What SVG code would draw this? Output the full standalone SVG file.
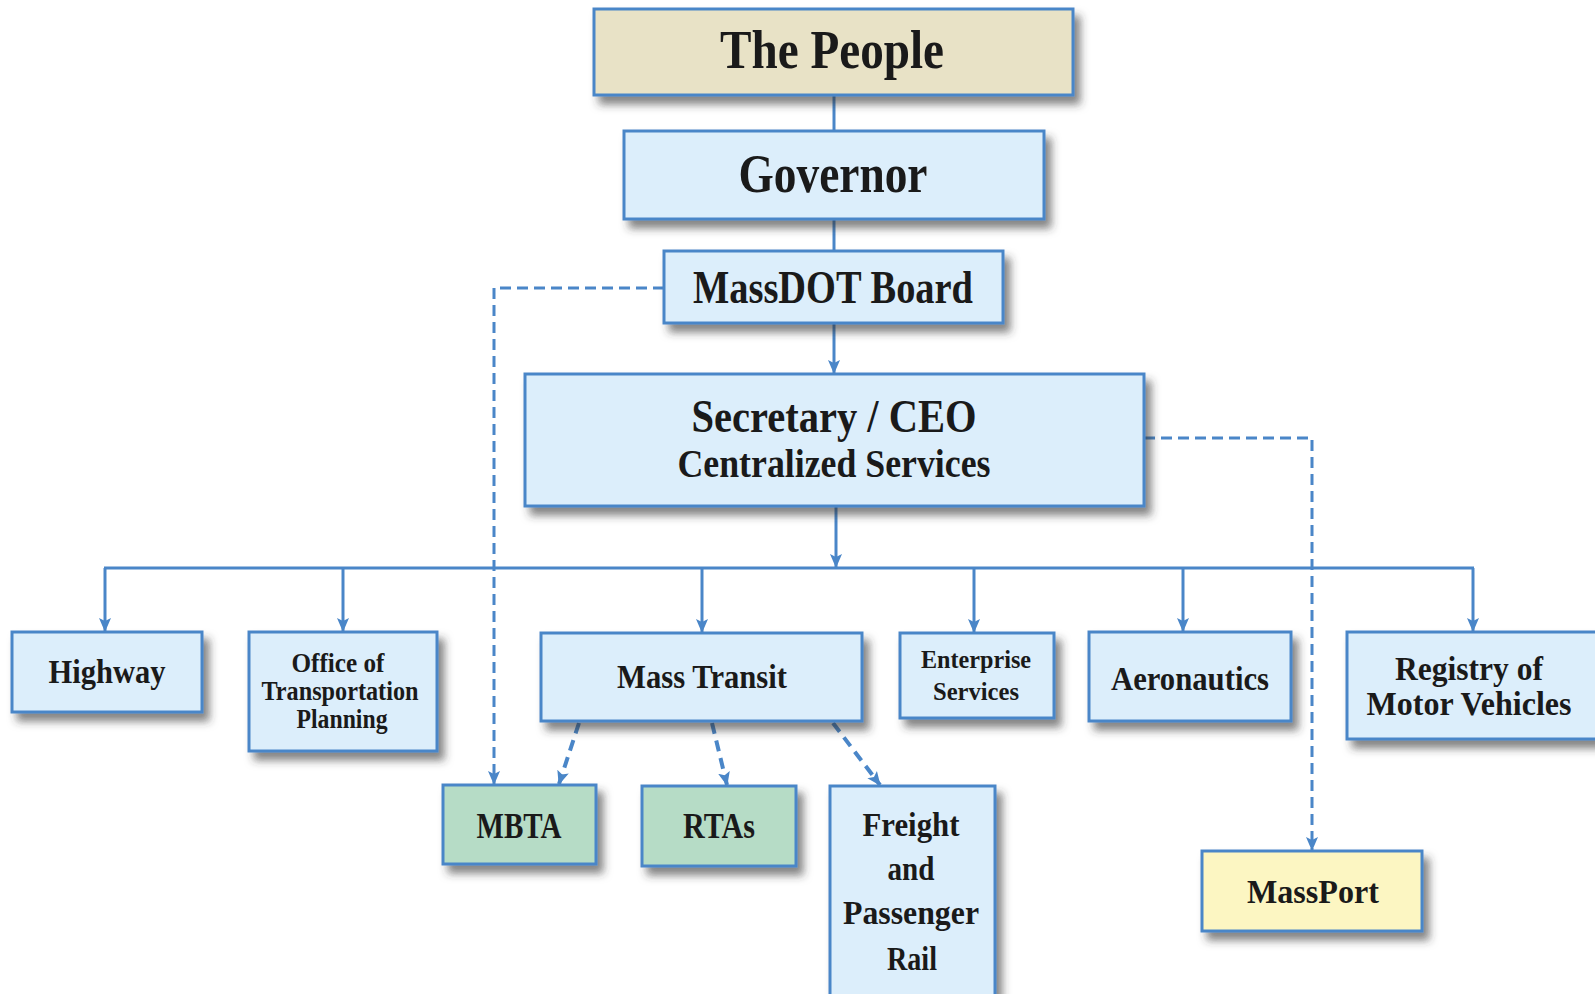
<svg xmlns="http://www.w3.org/2000/svg" width="1595" height="994" viewBox="0 0 1595 994">
<style>
.box{stroke:#4a86c8;stroke-width:3;filter:url(#sh)}
.blue{fill:#dceefb}
.tan{fill:#e8e2c6}
.green{fill:#b6dcc6}
.yellow{fill:#fcf6c2}
.t{font-family:"Liberation Serif","Times New Roman",serif;font-weight:bold;fill:#1a1a1a;text-anchor:middle}
.ln{stroke:#4a86c8;stroke-width:3;fill:none}
.ds{stroke:#4a86c8;stroke-width:3;fill:none;stroke-dasharray:11 6}
.dt{stroke:#4a86c8;stroke-width:4;fill:none;stroke-dasharray:11 7}
</style>
<defs>
<filter id="sh" x="-10%" y="-10%" width="130%" height="140%">
<feDropShadow dx="6" dy="8" stdDeviation="4" flood-color="#333" flood-opacity="0.6"/>
</filter>
<marker id="ah" markerUnits="userSpaceOnUse" markerWidth="14" markerHeight="14" viewBox="0 0 14 14" refX="13" refY="7" orient="auto">
<path d="M0,1 L14,7 L0,13 L3,7 Z" fill="#4a86c8"/>
</marker>
</defs>
<rect width="1595" height="994" fill="#ffffff"/>
<g id="connectors">
<line class="ln" x1="834" y1="96" x2="834" y2="131"/>
<line class="ln" x1="834" y1="219" x2="834" y2="251"/>
<line class="ln" x1="834" y1="323" x2="834" y2="373" marker-end="url(#ah)"/>
<line class="ln" x1="836" y1="506" x2="836" y2="567" marker-end="url(#ah)"/>
<line class="ln" x1="104" y1="568" x2="1474" y2="568"/>
<line class="ln" x1="105" y1="568" x2="105" y2="631" marker-end="url(#ah)"/>
<line class="ln" x1="343" y1="568" x2="343" y2="631" marker-end="url(#ah)"/>
<line class="ln" x1="702" y1="568" x2="702" y2="632" marker-end="url(#ah)"/>
<line class="ln" x1="974" y1="568" x2="974" y2="632" marker-end="url(#ah)"/>
<line class="ln" x1="1183" y1="568" x2="1183" y2="631" marker-end="url(#ah)"/>
<line class="ln" x1="1473" y1="568" x2="1473" y2="631" marker-end="url(#ah)"/>
<path class="ds" d="M664,288 H494 V784" marker-end="url(#ah)"/>
<path class="ds" d="M1144,438 H1312 V850" marker-end="url(#ah)"/>
<line class="dt" x1="579" y1="723" x2="559" y2="784" marker-end="url(#ah)"/>
<line class="dt" x1="712" y1="723" x2="727" y2="785" marker-end="url(#ah)"/>
<line class="dt" x1="833" y1="723" x2="880" y2="785" marker-end="url(#ah)"/>
</g>
<g id="the-people">
<rect class="box tan" x="594" y="9" width="479" height="86"/>
<text class="t" x="832" y="68" font-size="54" textLength="224" lengthAdjust="spacingAndGlyphs">The People</text>
</g>
<g id="governor">
<rect class="box blue" x="624" y="131" width="420" height="88"/>
<text class="t" x="833" y="192" font-size="54" textLength="189" lengthAdjust="spacingAndGlyphs">Governor</text>
</g>
<g id="massdot-board">
<rect class="box blue" x="664" y="251" width="339" height="72"/>
<text class="t" x="833" y="303" font-size="46" textLength="280" lengthAdjust="spacingAndGlyphs">MassDOT Board</text>
</g>
<g id="secretary">
<rect class="box blue" x="525" y="374" width="619" height="132"/>
<text class="t" x="834" y="432" font-size="46" textLength="285" lengthAdjust="spacingAndGlyphs">Secretary / CEO</text>
<text class="t" x="834" y="477" font-size="41" textLength="313" lengthAdjust="spacingAndGlyphs">Centralized Services</text>
</g>
<g id="highway">
<rect class="box blue" x="12" y="632" width="190" height="80"/>
<text class="t" x="107" y="683" font-size="33" textLength="117" lengthAdjust="spacingAndGlyphs">Highway</text>
</g>
<g id="office-planning">
<rect class="box blue" x="249" y="632" width="188" height="119"/>
<text class="t" x="338" y="672" font-size="27" textLength="93" lengthAdjust="spacingAndGlyphs">Office of</text>
<text class="t" x="340" y="700" font-size="27" textLength="157" lengthAdjust="spacingAndGlyphs">Transportation</text>
<text class="t" x="342" y="728" font-size="27" textLength="91" lengthAdjust="spacingAndGlyphs">Planning</text>
</g>
<g id="mass-transit">
<rect class="box blue" x="541" y="633" width="321" height="88"/>
<text class="t" x="702" y="688" font-size="33" textLength="170" lengthAdjust="spacingAndGlyphs">Mass Transit</text>
</g>
<g id="enterprise-services">
<rect class="box blue" x="900" y="633" width="154" height="85"/>
<text class="t" x="976" y="668" font-size="26" textLength="110" lengthAdjust="spacingAndGlyphs">Enterprise</text>
<text class="t" x="976" y="700" font-size="26" textLength="86" lengthAdjust="spacingAndGlyphs">Services</text>
</g>
<g id="aeronautics">
<rect class="box blue" x="1089" y="632" width="202" height="89"/>
<text class="t" x="1190" y="690" font-size="33" textLength="158" lengthAdjust="spacingAndGlyphs">Aeronautics</text>
</g>
<g id="registry">
<rect class="box blue" x="1347" y="632" width="250" height="107"/>
<text class="t" x="1469" y="680" font-size="34" textLength="148" lengthAdjust="spacingAndGlyphs">Registry of</text>
<text class="t" x="1469" y="715" font-size="34" textLength="205" lengthAdjust="spacingAndGlyphs">Motor Vehicles</text>
</g>
<g id="mbta">
<rect class="box green" x="443" y="785" width="153" height="79"/>
<text class="t" x="519" y="838" font-size="35" textLength="85" lengthAdjust="spacingAndGlyphs">MBTA</text>
</g>
<g id="rtas">
<rect class="box green" x="642" y="786" width="154" height="80"/>
<text class="t" x="719" y="838" font-size="35" textLength="72" lengthAdjust="spacingAndGlyphs">RTAs</text>
</g>
<g id="freight-rail">
<rect class="box blue" x="830" y="786" width="165" height="220"/>
<text class="t" x="911" y="836" font-size="33" textLength="97" lengthAdjust="spacingAndGlyphs">Freight</text>
<text class="t" x="911" y="880" font-size="33" textLength="47" lengthAdjust="spacingAndGlyphs">and</text>
<text class="t" x="911" y="924" font-size="33" textLength="136" lengthAdjust="spacingAndGlyphs">Passenger</text>
<text class="t" x="912" y="970" font-size="33" textLength="50" lengthAdjust="spacingAndGlyphs">Rail</text>
</g>
<g id="massport">
<rect class="box yellow" x="1202" y="851" width="220" height="80"/>
<text class="t" x="1313" y="903" font-size="34" textLength="132" lengthAdjust="spacingAndGlyphs">MassPort</text>
</g>
</svg>
